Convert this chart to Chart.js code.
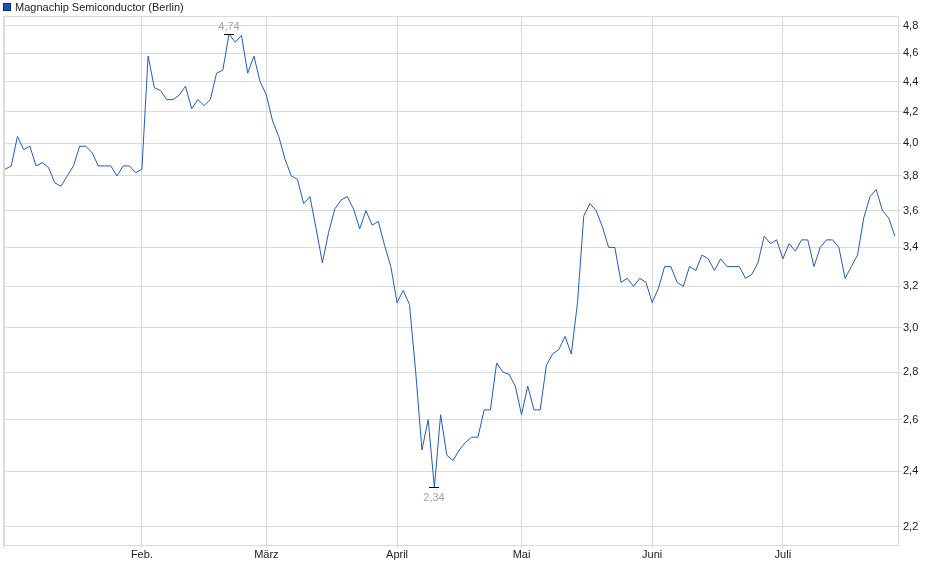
<!DOCTYPE html>
<html>
<head>
<meta charset="utf-8">
<script src="https://cdn.jsdelivr.net/npm/chart.js@4.4.1/dist/chart.umd.min.js"></script>
<style>
  html, body { margin: 0; padding: 0; background: #fff; }
  #wrap { width: 940px; height: 579px; }
</style>
</head>
<body>
<div id="wrap"><canvas id="priceChart" width="940" height="579"></canvas></div>
<script>
// Series name and daily closing prices (EUR), one per trading day Jan - Jul
const seriesName = 'Magnachip Semiconductor (Berlin)';
const prices = [
  3.84, 3.86, 4.04, 3.96, 3.98, 3.86, 3.88, 3.85, 3.76, 3.74,
  3.80, 3.86, 3.98, 3.98, 3.94, 3.86, 3.86, 3.86, 3.80, 3.86,
  3.86, 3.82, 3.84, 4.58, 4.36, 4.34, 4.28, 4.28, 4.31, 4.37,
  4.22, 4.28, 4.24, 4.28, 4.46, 4.48, 4.74, 4.68, 4.73, 4.46,
  4.58, 4.40, 4.31, 4.14, 4.04, 3.90, 3.80, 3.78, 3.64, 3.68,
  3.50, 3.32, 3.48, 3.61, 3.66, 3.68, 3.61, 3.50, 3.60, 3.52,
  3.54, 3.41, 3.30, 3.12, 3.18, 3.11, 2.80, 2.48, 2.60, 2.34,
  2.62, 2.46, 2.44, 2.48, 2.51, 2.53, 2.53, 2.64, 2.64, 2.84,
  2.80, 2.79, 2.74, 2.62, 2.74, 2.64, 2.64, 2.83, 2.88, 2.90,
  2.96, 2.88, 3.12, 3.57, 3.64, 3.60, 3.51, 3.40, 3.40, 3.22,
  3.24, 3.20, 3.24, 3.22, 3.12, 3.19, 3.30, 3.30, 3.22, 3.20,
  3.30, 3.28, 3.36, 3.34, 3.28, 3.34, 3.30, 3.30, 3.30, 3.24,
  3.26, 3.32, 3.46, 3.42, 3.44, 3.34, 3.42, 3.38, 3.44, 3.44,
  3.30, 3.40, 3.44, 3.44, 3.40, 3.24, 3.30, 3.36, 3.56, 3.68,
  3.72, 3.60, 3.56, 3.46
];

// Month gridlines: index of first trading day and its label
const monthStarts = [0, 22, 42, 63, 83, 104, 125];
const monthLabels = ['', 'Feb.', 'März', 'April', 'Mai', 'Juni', 'Juli'];

// Price axis ticks
const priceTicks = [2.2, 2.4, 2.6, 2.8, 3.0, 3.2, 3.4, 3.6, 3.8, 4.0, 4.2, 4.4, 4.6, 4.8];

const FONT = "'Liberation Sans', Arial, sans-serif";
const LINE_COLOR = '#1f5bc4';
const GRID_COLOR = '#dadada';

function fmt(v, digits) {
    return v.toFixed(digits).replace('.', ',');
}

// Frame, legend and min/max markers
const decorPlugin = {
    id: 'decor',
    beforeDatasetsDraw(chart) {
        const { ctx, chartArea: a } = chart;
        ctx.save();
        ctx.strokeStyle = GRID_COLOR;
        ctx.lineWidth = 1;
        ctx.beginPath();
        ctx.moveTo(a.left + 0.5, a.bottom);
        ctx.lineTo(a.left + 0.5, a.top + 0.5);
        ctx.lineTo(a.right, a.top + 0.5);
        ctx.stroke();
        ctx.restore();
    },
    afterDatasetsDraw(chart) {
        const { ctx } = chart;
        const xs = chart.scales.x;
        const ys = chart.scales.y;
        const maxVal = Math.max(...prices);
        const minVal = Math.min(...prices);
        const marks = [
            { i: prices.indexOf(maxVal), v: maxVal, dy: -8 },
            { i: prices.indexOf(minVal), v: minVal, dy: 10 }
        ];
        ctx.save();
        marks.forEach(m => {
            const px = Math.round(xs.getPixelForValue(m.i));
            const py = Math.round(ys.getPixelForValue(m.v)) + 0.5;
            ctx.strokeStyle = '#000';
            ctx.lineWidth = 1;
            ctx.beginPath();
            ctx.moveTo(px - 5, py);
            ctx.lineTo(px + 5, py);
            ctx.stroke();
            ctx.fillStyle = '#a8a39c';
            ctx.font = '11px ' + FONT;
            ctx.textAlign = 'center';
            ctx.textBaseline = 'middle';
            ctx.fillText(fmt(m.v, 2), px, py + m.dy);
        });
        ctx.restore();
    },
    afterDraw(chart) {
        const { ctx } = chart;
        ctx.save();
        ctx.fillStyle = '#1a55b5';
        ctx.fillRect(3, 3, 8, 8);
        ctx.strokeStyle = '#1b2f5e';
        ctx.lineWidth = 1;
        ctx.strokeRect(3.5, 3.5, 7, 7);
        ctx.fillStyle = '#222';
        ctx.font = '11px ' + FONT;
        ctx.textAlign = 'left';
        ctx.textBaseline = 'middle';
        ctx.fillText(seriesName, 15, 7.5);
        ctx.restore();
    }
};

function renderChart() {
    const ctx = document.getElementById('priceChart').getContext('2d');
    return new Chart(ctx, {
        type: 'line',
        data: {
            datasets: [{
                label: seriesName,
                data: prices.map((v, i) => ({ x: i, y: v })),
                borderColor: LINE_COLOR,
                borderWidth: 1,
                pointRadius: 0,
                tension: 0,
                fill: false
            }]
        },
        options: {
            responsive: false,
            animation: false,
            layout: { padding: { top: 16, left: 3, right: 0, bottom: 0 } },
            plugins: {
                legend: { display: false },
                tooltip: { enabled: false }
            },
            scales: {
                x: {
                    type: 'linear',
                    min: -0.32,
                    max: 143.5,
                    afterBuildTicks(scale) {
                        scale.ticks = monthStarts.map(v => ({ value: v }));
                    },
                    afterFit(scale) { scale.height = 34; },
                    grid: { color: GRID_COLOR, tickLength: 3 },
                    border: { color: GRID_COLOR },
                    ticks: {
                        autoSkip: false,
                        maxRotation: 0,
                        padding: 0,
                        color: '#222',
                        font: { family: FONT, size: 11 },
                        callback(value) {
                            const k = monthStarts.indexOf(value);
                            return k >= 0 ? monthLabels[k] : '';
                        }
                    }
                },
                y: {
                    type: 'logarithmic',
                    position: 'right',
                    min: 2.139,
                    max: 4.875,
                    afterBuildTicks(scale) {
                        scale.ticks = priceTicks.map(v => ({ value: v }));
                    },
                    afterFit(scale) { scale.width = 42; },
                    grid: { color: GRID_COLOR, tickLength: 3 },
                    border: { color: GRID_COLOR },
                    ticks: {
                        padding: 2,
                        color: '#222',
                        font: { family: FONT, size: 11 },
                        callback(value) { return fmt(value, 1); }
                    }
                }
            }
        },
        plugins: [decorPlugin]
    });
}

renderChart();
</script>
</body>
</html>
